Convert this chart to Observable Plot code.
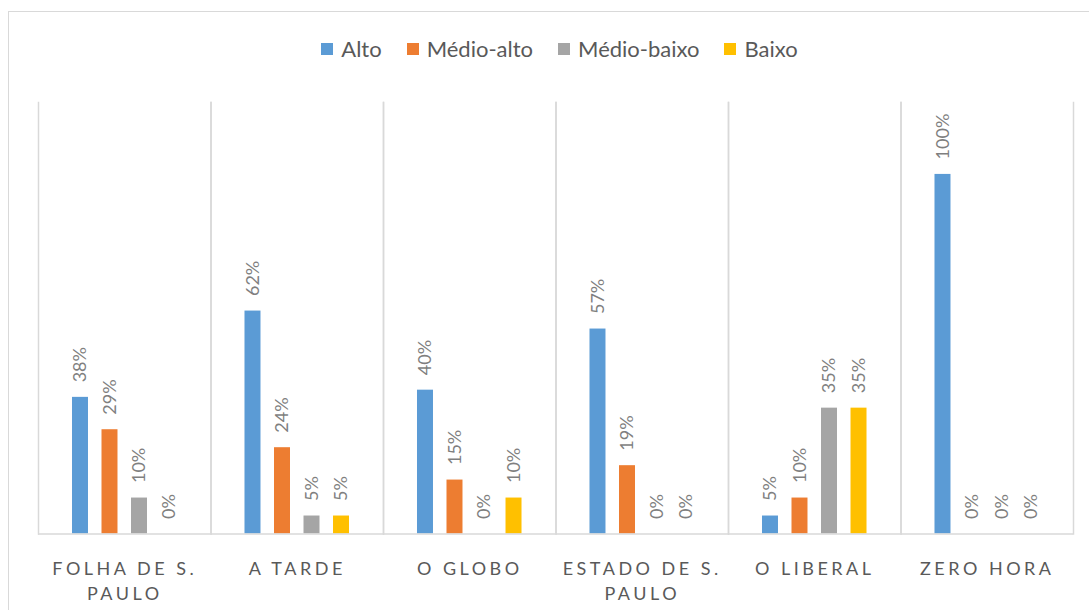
<!DOCTYPE html>
<html>
<head>
<meta charset="utf-8">
<script src="https://cdn.jsdelivr.net/npm/d3@7"></script>
<script src="https://cdn.jsdelivr.net/npm/@observablehq/plot@0.6"></script>
<style>
  html, body { margin: 0; padding: 0; background: #fff; overflow: hidden; width: 1089px; height: 610px; }
  body { font-family: Lato, "Open Sans", sans-serif; position: relative; }
  #border { position: absolute; left: 8px; top: 11px; width: 2000px; height: 2000px; border: 1.5px solid #d9d9d9; pointer-events: none; }
  #legend { position: relative; height: 90px; display: flex; justify-content: center; align-items: flex-start; padding-left: 30px; box-sizing: border-box; }
  #legend .items { display: flex; gap: 25px; margin-top: 35px; }
  #legend .item { display: flex; align-items: center; gap: 8px; font-size: 22px; color: #595959; }
  #legend .sw { width: 12px; height: 12px; display: inline-block; }
  #chart { position: relative; }
</style>
</head>
<body>
<div id="border"></div>
<div id="legend"><div class="items"></div></div>
<div id="chart"></div>
<script>
const categories = ["FOLHA DE S. PAULO", "A TARDE", "O GLOBO", "ESTADO DE S. PAULO", "O LIBERAL", "ZERO HORA"];
const categoryLabels = ["FOLHA DE S.\nPAULO", "A TARDE", "O GLOBO", "ESTADO DE S.\nPAULO", "O LIBERAL", "ZERO HORA"];
const series = ["Alto", "Médio-alto", "Médio-baixo", "Baixo"];
const colors = ["#5B9BD5", "#ED7D31", "#A5A5A5", "#FFC000"];
const alto       = [38, 62, 40, 57, 5, 100];
const medioAlto  = [29, 24, 15, 19, 10, 0];
const medioBaixo = [10, 5, 0, 0, 35, 0];
const baixo      = [0, 5, 10, 0, 35, 0];
const yDomain = [0, 120];

const seriesValues = [alto, medioAlto, medioBaixo, baixo];
const data = [];
categories.forEach((c, i) => {
  series.forEach((s, j) => data.push({paper: c, level: s, value: seriesValues[j][i]}));
});

// legend
const items = d3.select("#legend .items");
series.forEach((s, j) => {
  const it = items.append("div").attr("class", "item");
  it.append("span").attr("class", "sw").style("background", colors[j]);
  it.append("span").text(s);
});

const grid = "#d9d9d9";
const chart = Plot.plot({
  width: 1089,
  height: 520,
  marginLeft: 38,
  marginRight: 16,
  marginTop: 12,
  marginBottom: 76.5,
  style: {fontFamily: "Lato, 'Open Sans', sans-serif", background: "transparent"},
  fx: {domain: categories, padding: 0, round: false, axis: null, label: null},
  x: {domain: series, paddingInner: 0.458, paddingOuter: 1.152, round: false, axis: null, label: null},
  y: {domain: yDomain, axis: null, label: null},
  color: {domain: series, range: colors},
  marks: [
    Plot.frame({anchor: "left", stroke: grid, strokeWidth: 1.5}),
    Plot.frame({anchor: "right", stroke: grid, strokeWidth: 1.5}),
    Plot.barY(data, {fx: "paper", x: "level", y: "value", fill: "level"}),
    Plot.ruleY([0], {stroke: grid, strokeWidth: 1.5}),
    Plot.text(data, {
      fx: "paper", x: "level", y: "value",
      text: d => d.value + "%",
      rotate: -90, textAnchor: "start", lineAnchor: "middle",
      dy: -15, fill: "#7f7f7f", fontSize: 18
    }),
    Plot.text(categories, {
      fx: d => d, text: d => categoryLabels[categories.indexOf(d)],
      frameAnchor: "bottom", lineAnchor: "top", dy: 23.7, lineHeight: 1.39,
      fill: "#595959", fontSize: 18
    })
  ]
});
document.getElementById("chart").appendChild(chart);
const norm = s => s.replace(/\s/g, "");
d3.select(chart).selectAll("text")
  .filter(function() { return categories.some(c => norm(c) === norm(this.textContent)); })
  .style("letter-spacing", "3.5px");
</script>
</body>
</html>
